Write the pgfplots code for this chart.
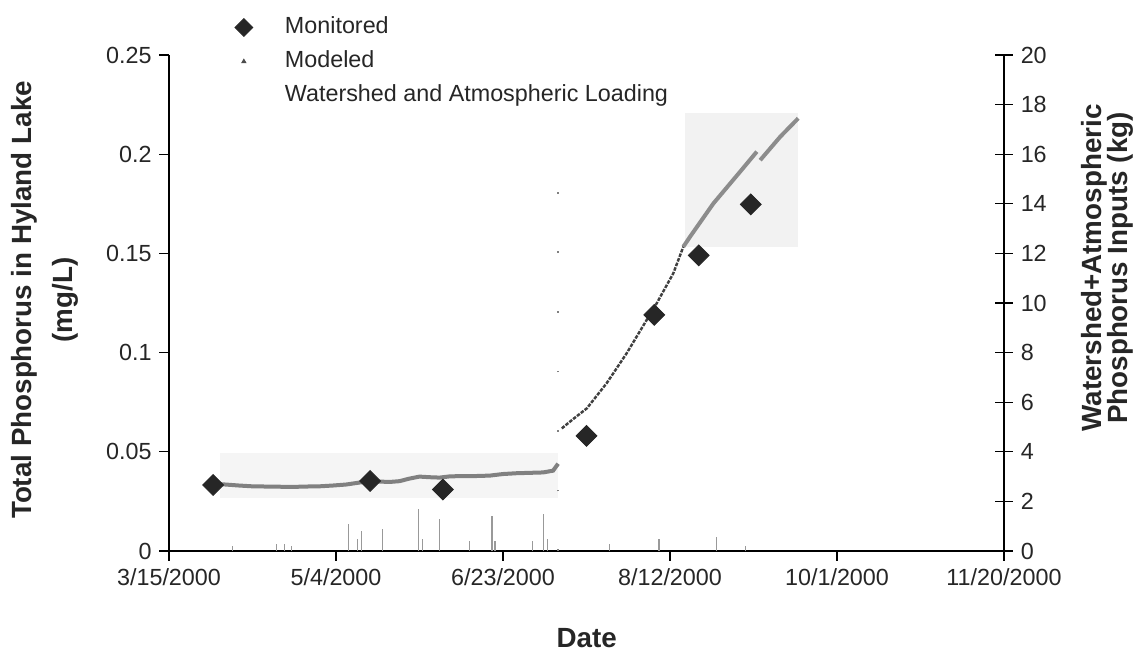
\documentclass[border=0pt]{standalone}
\usepackage{fontspec}
\setmainfont{Liberation Sans}
\usepackage{pgfplots}
\pgfplotsset{compat=1.18}
\definecolor{diam}{HTML}{262626}
\pgfplotsset{mylegimg/.style={legend image code/.code={\path[draw=none,fill=none] (-4pt,0pt) (18.5pt,0pt); \draw[##1] plot coordinates {(0pt,0pt)};}}}
\begin{document}
\begin{tikzpicture}
\useasboundingbox (-76.05pt,-47.25pt) rectangle (439.65pt,247.95pt);
\begin{axis}[
  at={(0pt,0pt)}, anchor=south west,
  scale only axis, width=375.75pt, height=223.2pt,
  xmin=0, xmax=250, ymin=0, ymax=0.25,
  axis x line=bottom, axis y line=left,
  axis line style={-, line width=0.6pt, black},
  tick align=outside, major tick length=4.3pt,
  tick style={line width=0.6pt, black},
  xtick={0,50,100,150,200,250},
  xticklabels={3/15/2000,5/4/2000,6/23/2000,8/12/2000,10/1/2000,11/20/2000},
  ytick={0,0.05,0.1,0.15,0.2,0.25},
  yticklabels={0,0.05,0.1,0.15,0.2,0.25},
  tick label style={font=\fontsize{10.5}{12}\selectfont, black!85},
  legend style={at={(axis description cs:0.079,1.079)}, anchor=north west,
    draw=none, fill=none, inner sep=0pt, outer sep=0pt, row sep=4.8pt,
    font=\fontsize{10.5}{12}\selectfont,
    nodes={inner sep=0pt, text height=8pt, text depth=2.5pt, text=black!85}},
  legend cell align=left,
  clip=false,
]
% faint background shading (scan artefact)
\addplot[forget plot, fill=black!4, draw=none] coordinates {(15.3,0.0267)(116.5,0.0267)(116.5,0.0494)(15.3,0.0494)} -- cycle;
\addplot[forget plot, fill=black!5, draw=none] coordinates {(154.5,0.153)(188.3,0.153)(188.3,0.2208)(154.5,0.2208)} -- cycle;
% legend images
\addlegendimage{only marks, mark=square*, mark options={rotate=45, fill=diam, draw=diam}, mark size=2.8pt, mylegimg}
\addlegendentry{Monitored}
\addlegendimage{only marks, mark=triangle*, mark size=1pt, mark options={fill=black!70, draw=black!70}, mylegimg}
\addlegendentry{Modeled}
\addlegendimage{empty legend}
\addlegendentry{Watershed and Atmospheric Loading}
% modeled: flat portion
\addplot[forget plot, black!50, line width=1.8pt] coordinates {
(13,0.0340)(17,0.0335)(21,0.0330)(25,0.0326)(29,0.0325)(33,0.0324)(37,0.0323)
(41,0.0325)(45,0.0326)(49,0.0330)(53,0.0335)(57,0.0345)(60,0.0352)(63,0.0350)
(66,0.0348)(69,0.0352)(72,0.0365)(75,0.0375)(78,0.0372)(81,0.0370)(84,0.0376)
(88,0.0378)(92,0.0378)(96,0.0380)(100,0.0388)(104,0.0392)(108,0.0394)(112,0.0396)
(115,0.0405)(116.5,0.0440)};
% modeled: rising portion
\addplot[forget plot, black!75, line width=1.1pt, dash pattern=on 1.6pt off 0.6pt] coordinates {
(117.6,0.0618)(121,0.0665)(125.1,0.0719)(131,0.0845)(137,0.0996)(143,0.1164)
(146,0.1248)(151,0.1400)(154,0.1534)};
% modeled: upper portion
\addplot[forget plot, black!45, line width=1.8pt] coordinates {
(154,0.1534)(156,0.1584)(163,0.1752)(171,0.1912)(176,0.2013)};
\addplot[forget plot, black!45, line width=1.8pt] coordinates {
(177,0.1970)(183,0.2088)(188.4,0.2181)};
% monitored
\addplot[forget plot, only marks, mark=square*, mark options={rotate=45, fill=diam, draw=diam}, mark size=3.3pt] coordinates {
(13.2,0.0333)(60.2,0.0353)(82,0.0310)(125,0.0580)(145.3,0.1190)(158.6,0.1490)(174.2,0.1747)};
\end{axis}
\begin{axis}[
  at={(0pt,0pt)}, anchor=south west,
  scale only axis, width=375.75pt, height=223.2pt,
  xmin=0, xmax=250, ymin=0, ymax=20,
  axis x line=none, axis y line=right,
  axis line style={-, line width=0.6pt, black},
  tick align=center, major tick length=8pt,
  tick style={line width=0.6pt, black},
  xtick=\empty,
  ytick={0,2,...,20},
  yticklabels={0,2,4,6,8,10,12,14,16,18,20},
  tick label style={font=\fontsize{10.5}{12}\selectfont, black!85},
  clip=false,
]
\addplot[ycomb, black!40, line width=0.5pt] coordinates {
(18.9,0.2)(32.3,0.3)(34.7,0.3)(36.8,0.2)(53.8,1.1)(56.5,0.5)(57.5,0.8)(64,0.9)
(74.6,1.7)(76,0.5)(81.1,1.3)(90.1,0.4)(96.7,1.4)(97.6,0.4)(108.7,0.4)(112,1.5)
(113.2,0.5)(132,0.3)(146.7,0.5)(164,0.55)(172.5,0.2)};
\addplot[ycomb, black!50, line width=0.6pt, dash pattern=on 0.8pt off 26pt] coordinates {(116.5,15.8)};
\end{axis}
% axis titles
\node[rotate=90, anchor=base, font=\fontsize{12.5}{15}\selectfont\bfseries, text=black!85] at (-61.8pt,112.95pt) {Total Phosphorus in Hyland Lake};
\node[rotate=90, anchor=base, font=\fontsize{12.5}{15}\selectfont\bfseries, text=black!85] at (-43.4pt,112.95pt) {(mg/L)};
\node[rotate=90, anchor=base, font=\fontsize{12.5}{15}\selectfont\bfseries, text=black!85] at (419.4pt,127.35pt) {Watershed+Atmospheric};
\node[rotate=90, anchor=base, font=\fontsize{12.5}{15}\selectfont\bfseries, text=black!85] at (431.1pt,127.35pt) {Phosphorus Inputs (kg)};
\node[anchor=base, font=\fontsize{12.5}{15}\selectfont\bfseries, text=black!85] at (188pt,-43.2pt) {Date};
\end{tikzpicture}
\end{document}
